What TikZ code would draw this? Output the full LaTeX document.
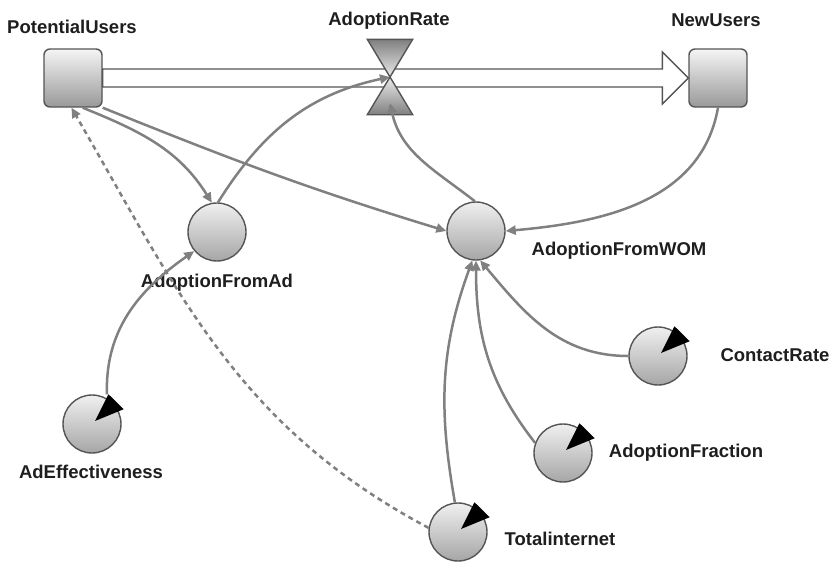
\documentclass[tikz,border=0pt]{standalone}
\usepackage{fontspec}
\setmainfont{Liberation Sans}
\usetikzlibrary{arrows.meta,calc}

\definecolor{linkgray}{RGB}{128,128,128}
\definecolor{edgegray}{RGB}{85,85,85}
\definecolor{labelink}{RGB}{30,30,30}

\tikzset{
  stock/.style={draw=edgegray, line width=1.4pt, rounded corners=6pt,
    top color=white!96!black, bottom color=black!40,
    minimum width=58pt, minimum height=58pt, inner sep=0pt},
  aux/.style={circle, draw=edgegray, line width=1.4pt,
    top color=white!94!black, bottom color=black!35,
    minimum size=58pt, inner sep=0pt},
  valvebox/.style={minimum width=45pt, minimum height=75pt, inner sep=0pt},
  link/.style={draw=linkgray, line width=2.5pt,
    -{Triangle[length=10pt,width=9pt]}},
  pipe/.style={draw=edgegray, line width=1.4pt, fill=white},
  lbl/.style={anchor=base, text=labelink,
    font=\fontsize{18.5}{22}\selectfont\bfseries}
}

\begin{document}
\begin{tikzpicture}[x=1pt,y=1pt]
  \useasboundingbox (0,0) rectangle (831,-563);

  % Stocks and flow
  \node[stock] (pu) at (73,-78) {};
  \node[stock] (nu) at (718,-78) {};
  \draw[pipe] ([yshift=9pt]pu.east)
    -- ([xshift=-26pt,yshift=9pt]nu.west)
    -- ([xshift=-26pt,yshift=26pt]nu.west)
    -- (nu.west)
    -- ([xshift=-26pt,yshift=-26pt]nu.west)
    -- ([xshift=-26pt,yshift=-9pt]nu.west)
    -- ([yshift=-9pt]pu.east) -- cycle;
  \node[valvebox] (rate) at (390,-77) {};
  \shade[top color=black!50, bottom color=black!8, draw=edgegray, line width=1.4pt]
    (rate.north west) -- (rate.north east) -- (rate.center) -- cycle;
  \shade[top color=black!8, bottom color=black!50, draw=edgegray, line width=1.4pt]
    (rate.south west) -- (rate.south east) -- (rate.center) -- cycle;

  % Auxiliaries
  \node[aux] (fromAd)   at (217,-232) {};
  \node[aux] (fromWom)  at (476,-231) {};
  \node[aux] (adEff)    at (92,-424) {};
  \node[aux] (contact)  at (658,-356) {};
  \node[aux] (fraction) at (563,-453) {};
  \node[aux] (total)    at (458,-532) {};

  % dial pointers on the constants
  \foreach \n in {adEff,contact,fraction,total}
    \fill[black] ($(\n.center)+(3,3)$) -- ($(\n.center)+(61:34)$)
      -- ($(\n.center)+(25:35)$) -- cycle;

  % Labels
  \node[lbl] (puLbl)       at (72,-33)   {PotentialUsers};
  \node[lbl] (rateLbl)     at (389,-25)  {AdoptionRate};
  \node[lbl] (nuLbl)       at (716,-26)  {NewUsers};
  \node[lbl] (fromAdLbl)   at (217,-287) {AdoptionFromAd};
  \node[lbl] (fromWomLbl)  at (619,-255) {AdoptionFromWOM};
  \node[lbl] (adEffLbl)    at (91,-478)  {AdEffectiveness};
  \node[lbl] (contactLbl)  at (775,-361) {ContactRate};
  \node[lbl] (fractionLbl) at (686,-457) {AdoptionFraction};
  \node[lbl] (totalLbl)    at (560,-545) {Totalinternet};

  % Links
  \draw[link] (pu.-72) to[out=-22, in=122] (fromAd.100);
  \draw[link] (pu.south east) to[out=-22, in=163] (fromWom.180);
  \draw[link] (fromAd.88) to[out=58, in=192] (rate.center);
  \draw[link] (fromWom.92) to[out=142, in=-78] ([yshift=-26pt]rate.center);
  \draw[link] (nu.south) to[out=-100, in=5] (fromWom.east);
  \draw[link] ([xshift=15pt]adEff.north) to[out=92, in=215] (fromAd.-140);
  \draw[link, dash pattern=on 5pt off 4pt] (total.172) to[out=152, in=-60] (pu.-93);
  \draw[link] (contact.west) to[out=180, in=-50] (fromWom.-82);
  \draw[link] (fraction.160) to[out=128, in=-90] (fromWom.-90);
  \draw[link] (total.96) to[out=100, in=-110] (fromWom.-97);
\end{tikzpicture}
\end{document}
